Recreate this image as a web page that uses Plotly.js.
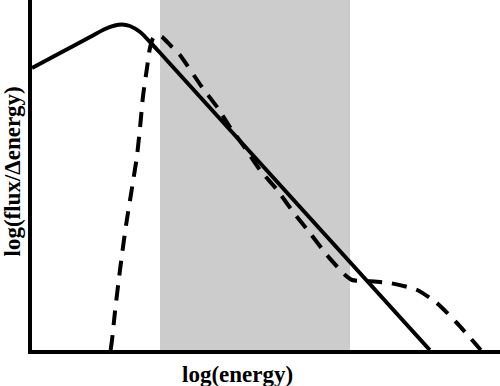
<!DOCTYPE html>
<html>
<head>
<meta charset="utf-8">
<script src="https://cdn.plot.ly/plotly-3.0.1.min.js"></script>
<style>html,body{margin:0;padding:0;background:#fff;}#chart{width:500px;height:386px;}</style>
</head>
<body>
<div id="chart"></div>
<script>
// log(energy) / log(flux/Δenergy) in arbitrary units
const solidX = [0.00, 0.60, 1.24, 1.56, 1.77, 1.92, 2.09, 2.31, 2.52, 2.74, 8.50];
const solidY = [5.64, 5.94, 6.26, 6.42, 6.49, 6.51, 6.48, 6.36, 6.16, 5.94, 0.00];

const dashX = [1.68, 1.71, 1.77, 1.88, 2.01, 2.14, 2.24, 2.31, 2.37, 2.46, 2.52, 2.59, 2.67, 2.78, 2.95, 3.16, 3.63, 3.97, 4.23, 4.55, 4.87, 5.24, 5.58, 5.94, 6.30, 6.69, 6.84, 7.12, 7.65, 8.23, 8.65, 9.08, 9.59];
const dashY = [0.00, 0.20, 0.74, 1.60, 2.50, 3.26, 3.86, 4.46, 5.06, 5.66, 6.04, 6.24, 6.30, 6.26, 6.10, 5.90, 5.26, 4.84, 4.46, 4.04, 3.60, 3.20, 2.76, 2.34, 1.90, 1.50, 1.40, 1.38, 1.34, 1.20, 0.94, 0.54, 0.00];

const bandX = [2.735, 6.795];

const xLabel = "log(energy)";
const yLabel = "log(flux/Δenergy)";

const font = {family: "Liberation Serif, Times New Roman, serif", size: 23, color: "#000"};

const traces = [
  {x: solidX, y: solidY, mode: "lines", line: {color: "#000", width: 4, shape: "spline", smoothing: 0.8}, hoverinfo: "skip"},
  {x: dashX, y: dashY, mode: "lines", line: {color: "#000", width: 4, dash: "15px,10px", shape: "spline", smoothing: 0.6}, hoverinfo: "skip"}
];

const layout = {
  width: 500, height: 386,
  margin: {l: 32, r: 0, t: 0, b: 36, pad: 0},
  paper_bgcolor: "#fff", plot_bgcolor: "#fff",
  showlegend: false,
  xaxis: {range: [0, 10], showline: true, linewidth: 4, linecolor: "#000", showgrid: false, zeroline: false, showticklabels: false, ticks: ""},
  yaxis: {range: [0, 7], showline: true, linewidth: 4, linecolor: "#000", showgrid: false, zeroline: false, showticklabels: false, ticks: ""},
  shapes: [
    {type: "rect", xref: "x", yref: "paper", x0: bandX[0], x1: bandX[1], y0: 0, y1: 1, fillcolor: "#cccccc", line: {width: 0}, layer: "below"}
  ],
  annotations: [
    {text: "<b>" + xLabel + "</b>", xref: "paper", yref: "paper", x: 0.44, y: 0, yshift: -24, showarrow: false, font: font, xanchor: "center", yanchor: "middle"},
    {text: "<b>" + yLabel + "</b>", xref: "paper", yref: "paper", x: 0, xshift: -20, y: 0.51, showarrow: false, font: font, textangle: -90, xanchor: "center", yanchor: "middle"}
  ]
};

Plotly.newPlot("chart", traces, layout, {displayModeBar: false, staticPlot: true});
</script>
</body>
</html>
